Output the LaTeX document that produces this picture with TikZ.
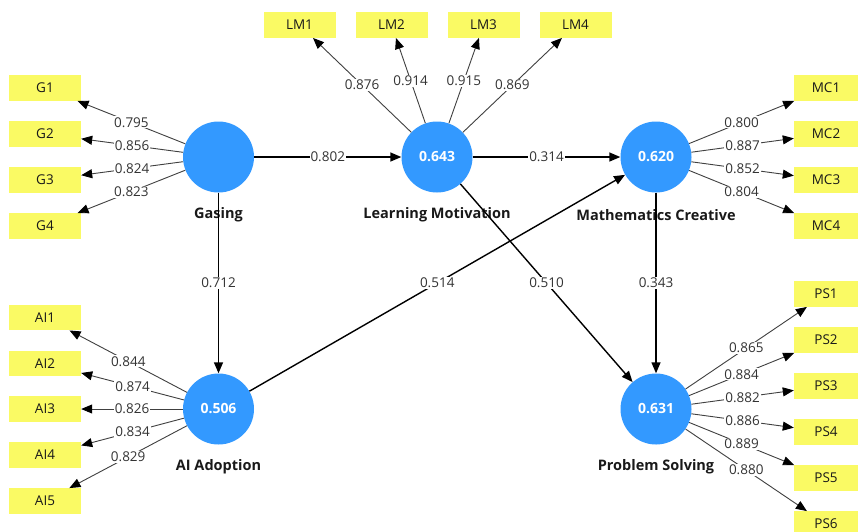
\documentclass[tikz,border=0pt]{standalone}
\usepackage{fontspec}
\setmainfont{Open Sans}
\usetikzlibrary{arrows.meta}
\definecolor{lvblue}{RGB}{51,153,255}
\definecolor{indyellow}{RGB}{250,250,100}
\begin{document}
\begin{tikzpicture}[x=1pt,y=-1pt,
 latent/.style={circle,fill=lvblue,minimum size=71pt,inner sep=0pt,text=white,font=\fontsize{14}{16}\selectfont\bfseries},
 ind/.style={fill=indyellow,minimum width=72pt,minimum height=25.5pt,inner sep=0pt,text=black!90,font=\fontsize{13.5}{16}\selectfont},
 indr/.style={ind,minimum width=64pt},
 lvname/.style={text=black!90,font=\fontsize{14.5}{16}\selectfont\bfseries},
 spath/.style={line width=1.4pt,-{Triangle[length=11pt,width=9pt]}},
 load/.style={line width=0.9pt,draw=black!75,-{Triangle[length=11pt,width=9pt,color=black]}},
 coef/.style={fill=white,inner sep=1pt,font=\fontsize{13.5}{16}\selectfont,text=black!80}
]
\useasboundingbox[fill=white] (0,0) rectangle (858,531);
% latent variables
\node[latent] (g) at (218.5,157) {};
\node[latent] (lm) at (437,157) {0.643};
\node[latent] (mc) at (656,157) {0.620};
\node[latent] (ai) at (218.5,409) {0.506};
\node[latent] (ps) at (656,409) {0.631};
\node[lvname] (gl) at (218.5,215) {Gasing};
\node[lvname] (lml) at (437,215) {Learning Motivation};
\node[lvname] (mcl) at (656,215) {Mathematics Creative};
\node[lvname] (ail) at (218.5,467) {AI Adoption};
\node[lvname] (psl) at (656,467) {Problem Solving};
% indicators
\node[ind] (g1) at (45,88) {G1};
\node[ind] (g2) at (45,134) {G2};
\node[ind] (g3) at (45,180) {G3};
\node[ind] (g4) at (45,226) {G4};
\node[ind] (ai1) at (45,317.5) {AI1};
\node[ind] (ai2) at (45,363.5) {AI2};
\node[ind] (ai3) at (45,409) {AI3};
\node[ind] (ai4) at (45,455) {AI4};
\node[ind] (ai5) at (45,501) {AI5};
\node[ind] (lm1) at (299.5,25) {LM1};
\node[ind] (lm2) at (391.5,25) {LM2};
\node[ind] (lm3) at (483.5,25) {LM3};
\node[ind] (lm4) at (575.5,25) {LM4};
\node[indr] (mc1) at (826,88) {MC1};
\node[indr] (mc2) at (826,134) {MC2};
\node[indr] (mc3) at (826,180) {MC3};
\node[indr] (mc4) at (826,226) {MC4};
\node[indr] (ps1) at (826,294) {PS1};
\node[indr] (ps2) at (826,340) {PS2};
\node[indr] (ps3) at (826,386) {PS3};
\node[indr] (ps4) at (826,432) {PS4};
\node[indr] (ps5) at (826,478) {PS5};
\node[indr] (ps6) at (826,524) {PS6};
% structural paths
\draw[spath] (g) -- node[coef]{0.802} (lm);
\draw[spath] (lm) -- node[coef]{0.314} (mc);
\draw[spath] (g) -- node[coef]{0.712} (ai);
\draw[spath] (mc) -- node[coef]{0.343} (ps);
\draw[spath] (ai) -- node[coef]{0.514} (mc);
\draw[spath] (lm) -- node[coef]{0.510} (ps);
% loadings
\draw[load] (g) -- node[coef]{0.795} (g1);
\draw[load] (g) -- node[coef]{0.856} (g2);
\draw[load] (g) -- node[coef]{0.824} (g3);
\draw[load] (g) -- node[coef]{0.823} (g4);
\draw[load] (ai) -- node[coef]{0.844} (ai1);
\draw[load] (ai) -- node[coef]{0.874} (ai2);
\draw[load] (ai) -- node[coef]{0.826} (ai3);
\draw[load] (ai) -- node[coef]{0.834} (ai4);
\draw[load] (ai) -- node[coef]{0.829} (ai5);
\draw[load] (lm) -- node[coef]{0.876} (lm1);
\draw[load] (lm) -- node[coef]{0.914} (lm2);
\draw[load] (lm) -- node[coef]{0.915} (lm3);
\draw[load] (lm) -- node[coef]{0.869} (lm4);
\draw[load] (mc) -- node[coef]{0.800} (mc1);
\draw[load] (mc) -- node[coef]{0.887} (mc2);
\draw[load] (mc) -- node[coef]{0.852} (mc3);
\draw[load] (mc) -- node[coef]{0.804} (mc4);
\draw[load] (ps) -- node[coef]{0.865} (ps1);
\draw[load] (ps) -- node[coef]{0.884} (ps2);
\draw[load] (ps) -- node[coef]{0.882} (ps3);
\draw[load] (ps) -- node[coef]{0.886} (ps4);
\draw[load] (ps) -- node[coef]{0.889} (ps5);
\draw[load] (ps) -- node[coef]{0.880} (ps6);
\end{tikzpicture}
\end{document}
